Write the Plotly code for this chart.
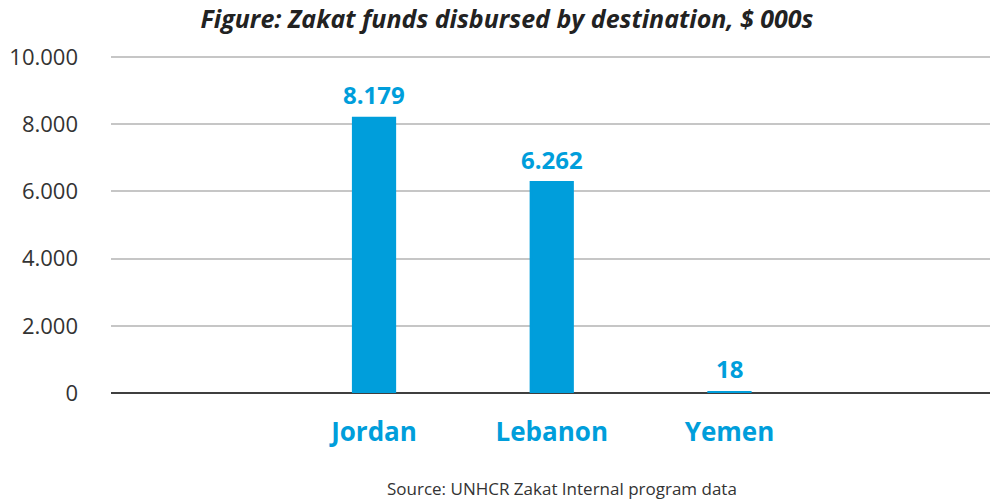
import plotly.graph_objects as go

categories = ["Jordan", "Lebanon", "Yemen"]
values = [8179, 6262, 18]
value_labels = ["8.179", "6.262", "18"]
y_tickvals = [0, 2000, 4000, 6000, 8000, 10000]
y_ticktext = ["0", "2.000", "4.000", "6.000", "8.000", "10.000"]

title_text = "<b><i>Figure: Zakat funds disbursed by destination, $ 000s</i></b>"
source_text = "Source: UNHCR Zakat Internal program data"

BLUE = "#009EDB"
FONT = "Open Sans"

W, H = 990, 499
L, T, B = 111, 56, 106
PW, PH = W - L, H - T - B

fig = go.Figure(
    go.Bar(
        x=categories,
        y=values,
        width=0.232,
        marker=dict(color=BLUE, line=dict(width=3, color=BLUE)),
        hoverinfo="skip",
    )
)

annotations = [
    dict(
        x=c, y=v, xref="x", yref="y",
        text=f"<b>{t}</b>",
        showarrow=False,
        xanchor="center", yanchor="bottom",
        yshift=5,
        font=dict(family=FONT, size=24, color=BLUE),
    )
    for c, v, t in zip(categories, values, value_labels)
]
annotations.append(
    dict(
        text=source_text,
        xref="paper", yref="paper",
        x=(562 - L) / PW,
        y=-(488 - (T + PH)) / PH,
        xanchor="center", yanchor="middle",
        showarrow=False,
        font=dict(family=FONT, size=17, color="#333333"),
    )
)

fig.update_layout(
    width=W,
    height=H,
    margin=dict(l=L, r=0, t=T, b=B),
    paper_bgcolor="white",
    plot_bgcolor="white",
    showlegend=False,
    hovermode=False,
    font=dict(family=FONT, color="#333333"),
    title=dict(
        text=title_text,
        x=507 / W,
        xanchor="center",
        y=1 - 19 / H,
        yanchor="middle",
        font=dict(family=FONT, size=25, color="#222222"),
    ),
    xaxis=dict(
        type="category",
        range=[-1.48, 3.466],
        showgrid=False,
        showline=False,
        zeroline=False,
        ticks="",
        tickfont=dict(family=FONT, size=26, color=BLUE, weight="bold"),
        ticklabelstandoff=21,
    ),
    yaxis=dict(
        range=[0, 10030],
        tickvals=y_tickvals,
        ticktext=y_ticktext,
        showgrid=True,
        gridcolor="#c6c6c6",
        gridwidth=2,
        zeroline=True,
        zerolinecolor="#3f3f3f",
        zerolinewidth=2,
        showline=False,
        ticks="",
        tickfont=dict(family=FONT, size=22, color="#333333"),
        ticklabelstandoff=32,
    ),
    annotations=annotations,
)

fig.write_html(
    "out.html",
    config={"displayModeBar": False, "staticPlot": True},
    post_script="document.body.style.margin='0';document.body.style.overflow='hidden';",
)
